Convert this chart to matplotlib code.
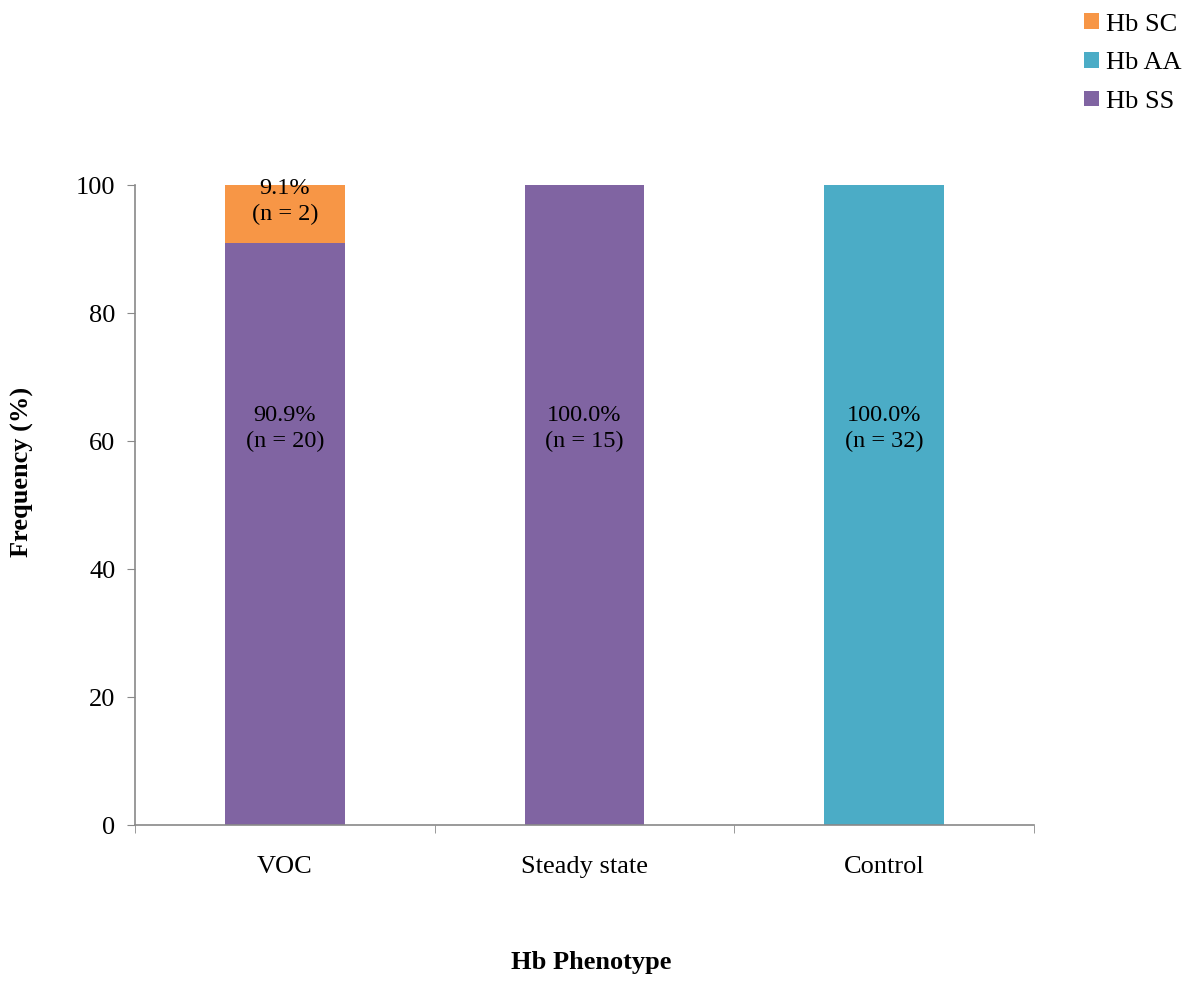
import matplotlib.pyplot as plt
import numpy as np

plt.rcParams['font.family'] = ['Liberation Serif', 'DejaVu Serif']

grupos = ['VOC', 'Steady state', 'Control']
hb_ss = [90.9, 100.0, 0.0]
hb_aa = [0.0, 0.0, 100.0]
hb_sc = [9.1, 0.0, 0.0]
n_ss = [20, 15, 0]
n_aa = [0, 0, 32]
n_sc = [2, 0, 0]

col_ss = '#8064A2'
col_aa = '#4BACC6'
col_sc = '#F79646'

fig = plt.figure(figsize=(11.92, 9.81), dpi=100)
ax = fig.add_axes([0.1133, 0.159, 0.7541, 0.6524])

x = np.arange(len(grupos))
ancho = 0.4
b_ss = ax.bar(x, hb_ss, ancho, color=col_ss, label='Hb SS')
b_aa = ax.bar(x, hb_aa, ancho, bottom=hb_ss, color=col_aa, label='Hb AA')
base_sc = np.array(hb_ss) + np.array(hb_aa)
b_sc = ax.bar(x, hb_sc, ancho, bottom=base_sc, color=col_sc, label='Hb SC')

# etiquetas dentro de las barras
for i in range(len(grupos)):
    segs = [(0, hb_ss[i], n_ss[i]), (hb_ss[i], hb_aa[i], n_aa[i]), (base_sc[i], hb_sc[i], n_sc[i])]
    for abajo, val, n in segs:
        if val <= 0:
            continue
        if val >= 50:
            yy = 62
        else:
            yy = abajo + val / 2 + 1.9
        ax.text(x[i], yy, f'{val:.1f}%\n(n = {n})', ha='center', va='center',
                fontsize=17.5, linespacing=1.3)

ax.set_xlim(-0.5, 2.5)
ax.set_ylim(0, 100)
ax.set_yticks([0, 20, 40, 60, 80, 100])
ax.set_xticks(x)
ax.set_xticklabels(grupos)
ax.set_xticks([-0.5, 0.5, 1.5, 2.5], minor=True)
ax.tick_params(axis='x', which='major', length=0, pad=22, labelsize=19)
ax.tick_params(axis='x', which='minor', length=6, color='#898989', direction='out')
ax.tick_params(axis='y', length=6, color='#898989', direction='out', pad=8, labelsize=19)

for s in ['top', 'right']:
    ax.spines[s].set_visible(False)
for s in ['left', 'bottom']:
    ax.spines[s].set_color('#898989')
    ax.spines[s].set_linewidth(1.2)

fig.text(591 / 1192, 1 - 963 / 981, 'Hb Phenotype', ha='center', va='center',
         fontsize=19, fontweight='bold')
fig.text(22 / 1192, 1 - 472 / 981, 'Frequency (%)', ha='center', va='center', rotation=90,
         fontsize=19, fontweight='bold')

fig.legend(handles=[b_sc, b_aa, b_ss], labels=['Hb SC', 'Hb AA', 'Hb SS'],
           loc='upper right', bbox_to_anchor=(1.006, 1.004), frameon=False, fontsize=19,
           handlelength=0.55, handleheight=0.55, handletextpad=0.3, labelspacing=0.62,
           borderaxespad=0.25)

plt.savefig('out.png', dpi=100)
